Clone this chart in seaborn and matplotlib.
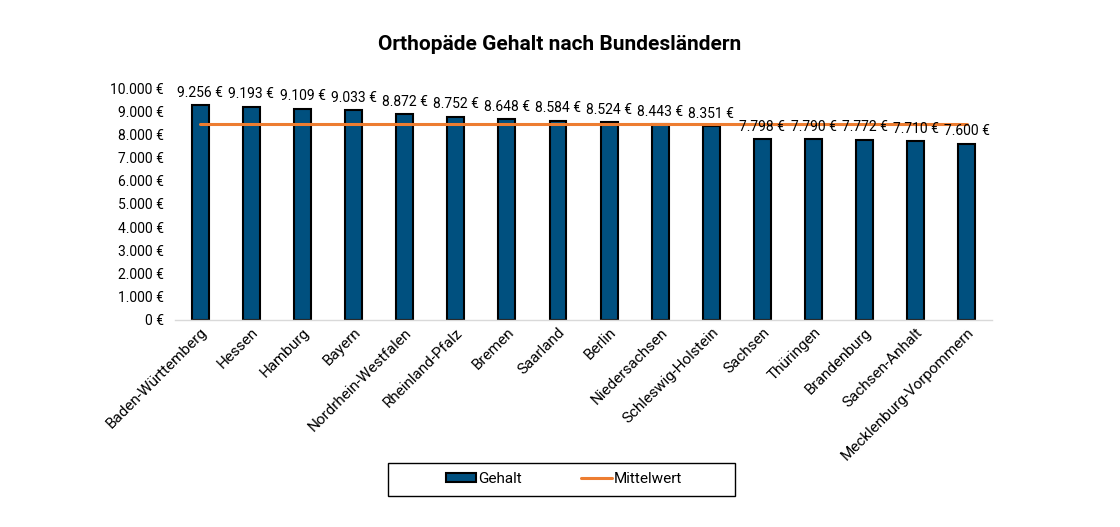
import matplotlib
matplotlib.use("Agg")
import matplotlib.pyplot as plt
import seaborn as sns
import pandas as pd
from matplotlib.lines import Line2D
from matplotlib.patches import Patch, Rectangle
from matplotlib.ticker import FuncFormatter

laender = ["Baden-Württemberg", "Hessen", "Hamburg", "Bayern", "Nordrhein-Westfalen",
           "Rheinland-Pfalz", "Bremen", "Saarland", "Berlin", "Niedersachsen",
           "Schleswig-Holstein", "Sachsen", "Thüringen", "Brandenburg", "Sachsen-Anhalt",
           "Mecklenburg-Vorpommern"]
gehalt = [9256, 9193, 9109, 9033, 8872, 8752, 8648, 8584, 8524, 8443, 8351,
          7798, 7790, 7772, 7710, 7600]
mittelwert = 8465

sns.set_theme(style="white")
plt.rcParams["font.family"] = ["Roboto", "DejaVu Sans"]
plt.rcParams["text.color"] = "black"
plt.rcParams["xtick.color"] = "black"
plt.rcParams["ytick.color"] = "black"
plt.rcParams["axes.labelcolor"] = "black"

def de(v):
    return f"{v:,.0f}".replace(",", ".") + " €"

df = pd.DataFrame({"Land": laender, "Gehalt": gehalt})

fig = plt.figure(figsize=(11.2, 5.27), dpi=100)
ax = fig.add_axes([0.156, 0.393, 0.73, 0.44])

bar_color = "#00507F"
sns.barplot(data=df, x="Land", y="Gehalt", color=bar_color, width=0.33,
            edgecolor="black", linewidth=1.5, ax=ax, saturation=1)
ax.plot(range(len(laender)), [mittelwert] * len(laender), color="#ED7D31", lw=2.2, zorder=5)

for i, v in enumerate(gehalt):
    ax.annotate(de(v), (i, v), xytext=(0, 4), textcoords="offset points",
                ha="center", va="bottom", fontsize=10, color="black", zorder=6)

ax.set_ylim(0, 10000)
ax.set_yticks(range(0, 10001, 1000))
ax.yaxis.set_major_formatter(FuncFormatter(lambda v, p: de(v)))
ax.set_xlim(-0.5, len(laender) - 0.5)
ax.set_xlabel("")
ax.set_ylabel("")
ax.tick_params(axis="y", labelsize=10, length=0, pad=8)
ax.tick_params(axis="x", labelsize=11, length=0, pad=4)
plt.setp(ax.get_xticklabels(), rotation=45, ha="right", rotation_mode="anchor")
for s in ["top", "right", "left"]:
    ax.spines[s].set_visible(False)
ax.spines["bottom"].set_color("#D9D9D9")
ax.spines["bottom"].set_linewidth(1)

fig.text(0.5, 0.915, "Orthopäde Gehalt nach Bundesländern", ha="center", va="center",
         fontsize=15, fontweight="bold", color="black")

fig.patches.append(Rectangle((388 / 1120, 31 / 527), 347 / 1120, 33 / 527,
                             transform=fig.transFigure, fill=False,
                             edgecolor="black", linewidth=1))

handles = [Patch(facecolor=bar_color, edgecolor="black", linewidth=1.5),
           Line2D([0], [0], color="#ED7D31", lw=2.2)]
leg = fig.legend(handles, ["Gehalt", "Mittelwert"], loc="center",
                 bbox_to_anchor=(564 / 1120, 48 / 527), ncol=2, frameon=False, fontsize=11,
                 handlelength=2.0, handleheight=0.5, handletextpad=0.15, columnspacing=3.85,
                 borderpad=0.0)

fig.savefig("out.png", dpi=100)
